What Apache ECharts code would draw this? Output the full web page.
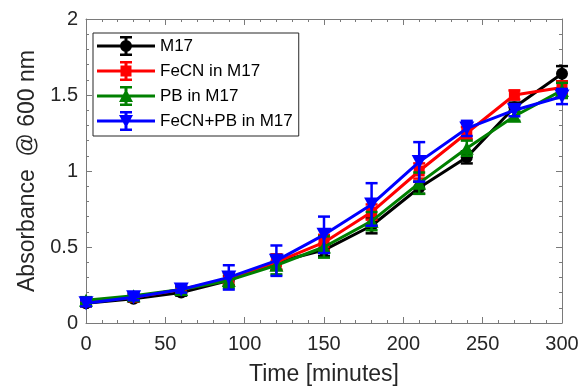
<!DOCTYPE html>
<html><head><meta charset="utf-8">
<script src="https://cdn.jsdelivr.net/npm/echarts@6/dist/echarts.min.js"></script>
<style>html,body{margin:0;padding:0;background:#fff}#c{width:579px;height:386px}</style>
</head><body><div id="c"></div>
<script>
var times = [0, 30, 60, 90, 120, 150, 180, 210, 240, 270, 300];
var names = ['M17', 'FeCN in M17', 'PB in M17', 'FeCN+PB in M17'];
var m17      = [0.13, 0.16, 0.20, 0.28, 0.40, 0.48, 0.64, 0.89, 1.09, 1.42, 1.64];
var m17Err   = [0.02, 0.02, 0.02, 0.03, 0.05, 0.04, 0.05, 0.04, 0.04, 0.03, 0.05];
var fecn     = [0.14, 0.17, 0.22, 0.29, 0.40, 0.53, 0.73, 1.00, 1.25, 1.50, 1.55];
var fecnErr  = [0.02, 0.02, 0.02, 0.04, 0.05, 0.05, 0.05, 0.05, 0.04, 0.03, 0.04];
var pb       = [0.15, 0.18, 0.22, 0.28, 0.38, 0.50, 0.67, 0.92, 1.15, 1.36, 1.53];
var pbErr    = [0.02, 0.02, 0.02, 0.05, 0.06, 0.07, 0.06, 0.07, 0.05, 0.03, 0.05];
var both     = [0.13, 0.17, 0.22, 0.30, 0.41, 0.58, 0.78, 1.06, 1.28, 1.40, 1.49];
var bothErr  = [0.02, 0.02, 0.02, 0.08, 0.10, 0.12, 0.14, 0.13, 0.05, 0.04, 0.05];

var colors = ['#000000', '#ff0000', '#008000', '#0000ff'];
var symbols = ['circle', 'rect', 'path://M0,12 L7,0 L14,12 Z', 'path://M0,0 L14,0 L7,12 Z'];
var symSizes = [12, 11, [14, 13], [15, 14]];
var vals = [m17, fecn, pb, both];
var errs = [m17Err, fecnErr, pbErr, bothErr];

// legend icons: line + error bar + marker, in a 58x20 box
function rect(x1, y1, x2, y2) { return 'M' + x1 + ',' + y1 + ' L' + x2 + ',' + y1 + ' L' + x2 + ',' + y2 + ' L' + x1 + ',' + y2 + ' Z '; }
var base = rect(0, 8.5, 58, 11.5) + rect(27.5, 1, 30.5, 19) + rect(23, 0, 35, 2.5) + rect(23, 17.5, 35, 20);
var markerPaths = [
  'M23,10 A6,6 0 1,1 35,10 A6,6 0 1,1 23,10 Z',
  rect(23.5, 4.5, 34.5, 15.5),
  'M22,16 L29,3 L36,16 Z',
  'M22,4 L36,4 L29,17 Z'
];
var legendData = names.map(function(n, i){ return { name: n, icon: 'path://' + base + markerPaths[i] }; });

var series = [];
for (var s = 0; s < 4; s++) {
  (function(s){
    var errData = times.map(function(t, i){ return [t, vals[s][i] - errs[s][i], vals[s][i] + errs[s][i]]; });
    series.push({
      type: 'custom', name: names[s] + ' error', z: 2 + s * 2, silent: true,
      data: errData,
      renderItem: function(params, api) {
        var x = api.value(0), lo = api.value(1), hi = api.value(2);
        var p1 = api.coord([x, hi]), p2 = api.coord([x, lo]);
        var w = 6;
        var st = { stroke: colors[s], lineWidth: 2.5 };
        return { type: 'group', children: [
          { type: 'line', shape: { x1: p1[0], y1: p1[1], x2: p2[0], y2: p2[1] }, style: st },
          { type: 'line', shape: { x1: p1[0]-w, y1: p1[1], x2: p1[0]+w, y2: p1[1] }, style: st },
          { type: 'line', shape: { x1: p2[0]-w, y1: p2[1], x2: p2[0]+w, y2: p2[1] }, style: st }
        ]};
      }
    });
    series.push({
      type: 'line', name: names[s], z: 3 + s * 2,
      data: times.map(function(t, i){ return [t, vals[s][i]]; }),
      symbol: symbols[s], symbolSize: symSizes[s],
      lineStyle: { color: colors[s], width: 3 },
      itemStyle: { color: colors[s], borderColor: colors[s], borderWidth: 0 },
      showAllSymbol: true
    });
  })(s);
}

var txtCol = '#262626';
var lineCol = '#7a7a7a';
var font = 'Liberation Sans, Arial, sans-serif';
function xAx(pos, interval, len, showLine, labels) {
  return {
    type: 'value', min: 0, max: 300, interval: interval, position: pos,
    axisLine: { show: showLine, onZero: false, lineStyle: { color: lineCol, width: 1 } },
    axisTick: { show: true, inside: true, length: len, lineStyle: { color: lineCol, width: 1 } },
    axisLabel: labels ? { fontFamily: font, fontSize: 20, color: txtCol, margin: 11 } : { show: false },
    splitLine: { show: false }
  };
}
function yAx(pos, interval, len, showLine, labels) {
  return {
    type: 'value', min: 0, max: 2, interval: interval, position: pos,
    axisLine: { show: showLine, onZero: false, lineStyle: { color: lineCol, width: 1 } },
    axisTick: { show: true, inside: true, length: len, lineStyle: { color: lineCol, width: 1 } },
    axisLabel: labels ? { fontFamily: font, fontSize: 20, color: txtCol, margin: 8 } : { show: false },
    splitLine: { show: false }
  };
}
var xMain = xAx('bottom', 50, 6, true, true);
xMain.name = 'Time [minutes]'; xMain.nameLocation = 'middle'; xMain.nameGap = 40;
xMain.nameTextStyle = { fontFamily: font, fontSize: 23, color: txtCol };
var yMain = yAx('left', 0.5, 6, true, true);
yMain.name = 'Absorbance  @ 600 nm'; yMain.nameLocation = 'middle'; yMain.nameGap = 47;
yMain.nameTextStyle = { fontFamily: font, fontSize: 23, color: txtCol };

var chart = echarts.init(document.getElementById('c'), null, { renderer: 'canvas' });
chart.setOption({
  animation: false,
  backgroundColor: '#ffffff',
  grid: { left: 86, right: 17, top: 19, bottom: 63, containLabel: false, outerBoundsMode: 'none' },
  legend: {
    data: legendData, orient: 'vertical', left: 93, top: 33,
    backgroundColor: '#ffffff', borderColor: txtCol, borderWidth: 1,
    padding: [3, 6, 5, 4], itemGap: 5, itemWidth: 58, itemHeight: 20,
    itemStyle: { borderWidth: 0 },
    textStyle: { fontFamily: font, fontSize: 17, color: '#000', padding: [0, 0, 0, 0] }
  },
  xAxis: [xMain, xAx('top', 50, 6, true, false), xAx('bottom', 10, 3, false, false), xAx('top', 10, 3, false, false)],
  yAxis: [yMain, yAx('right', 0.5, 6, true, false), yAx('left', 0.1, 3, false, false), yAx('right', 0.1, 3, false, false)],
  series: series
});
</script></body></html>
